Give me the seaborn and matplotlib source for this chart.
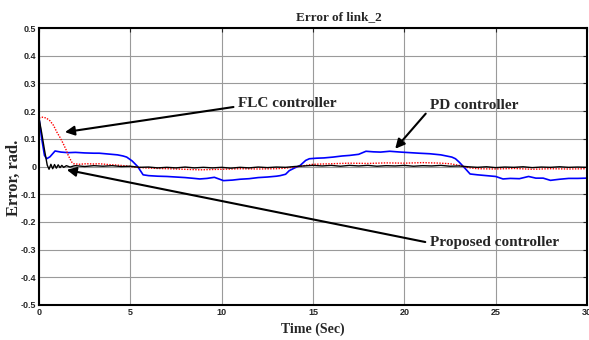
import numpy as np
import pandas as pd
import matplotlib
matplotlib.use("Agg")
import matplotlib.pyplot as plt
import seaborn as sns

# ---- data -------------------------------------------------------------
pd_time = [0, 0.15, 0.3, 0.42, 0.6, 0.88, 1.2, 1.6, 2.0, 2.5, 3.0, 3.3, 3.8, 4.3,
           4.6, 4.8, 5.1, 5.4, 5.7, 6.0, 6.5, 7.0, 7.5, 8.0, 8.5, 8.8, 9.2, 9.6,
           10.1, 10.6, 11.0, 11.5, 12.0, 12.5, 13.0, 13.2, 13.5, 13.7, 14.0, 14.3,
           14.6, 14.8, 15.2, 15.6, 16.1, 16.6, 17.0, 17.5, 17.9, 18.3, 18.7, 19.2,
           19.8, 20.3, 20.8, 21.4, 22.0, 22.6, 22.8, 23.0, 23.3, 23.6, 24.0, 24.5,
           25.0, 25.4, 25.8, 26.3, 26.8, 27.2, 27.6, 28.0, 28.5, 29.0, 29.5, 30.0]
pd_error = [0.175, 0.10, 0.04, 0.028, 0.035, 0.056, 0.052, 0.050, 0.051, 0.049,
            0.048, 0.048, 0.045, 0.042, 0.038, 0.034, 0.020, 0.0, -0.030, -0.033,
            -0.035, -0.036, -0.038, -0.040, -0.043, -0.045, -0.043, -0.039, -0.051,
            -0.049, -0.046, -0.044, -0.040, -0.038, -0.035, -0.033, -0.028, -0.015,
            -0.005, 0.004, 0.022, 0.028, 0.030, 0.031, 0.034, 0.038, 0.040, 0.044,
            0.055, 0.053, 0.052, 0.055, 0.052, 0.050, 0.048, 0.046, 0.042, 0.034,
            0.028, 0.016, -0.005, -0.027, -0.030, -0.033, -0.036, -0.045, -0.043,
            -0.044, -0.036, -0.042, -0.042, -0.050, -0.046, -0.043, -0.043, -0.042]

flc_time = [0, 0.2, 0.4, 0.6, 0.8, 0.97, 1.15, 1.33, 1.5, 1.6, 1.79, 1.9, 2.2, 2.6,
            3.0, 3.3, 3.8, 4.3, 4.8, 5.2, 5.8, 6.5, 7.5, 8.8, 10, 11, 12, 13, 13.5,
            14.0, 14.5, 15, 16, 17, 18, 19, 20, 21, 22, 22.5, 23, 23.5, 24, 25, 26,
            27, 28, 29, 30]
flc_error = [0.175, 0.178, 0.175, 0.165, 0.148, 0.125, 0.105, 0.082, 0.058, 0.04,
             0.016, 0.01, 0.008, 0.01, 0.009, 0.01, 0.007, 0.005, 0.002, -0.002,
             -0.005, -0.007, -0.009, -0.012, -0.01, -0.008, -0.009, -0.008, -0.006,
             -0.002, 0.003, 0.008, 0.01, 0.012, 0.011, 0.013, 0.012, 0.014, 0.012,
             0.01, 0.004, -0.004, -0.008, -0.009, -0.007, -0.01, -0.008, -0.009,
             -0.008]

prop_time = [0, 0.15, 0.3, 0.45, 0.55, 0.65, 0.75, 0.85, 0.95, 1.05, 1.15, 1.25,
             1.35, 1.5, 1.7, 1.9,
             2.0, 2.5, 3.0, 3.5, 4.0, 4.5, 5.0, 5.5, 6.0, 6.5, 7.0, 7.5, 8.0, 8.5,
             9.0, 9.5, 10.0, 10.5, 11.0, 11.5, 12.0, 12.5, 13.0, 13.5, 14.0, 14.5,
             15.0, 15.5, 16.0, 16.5, 17.0, 17.5, 18.0, 18.5, 19.0, 19.5, 20.0, 20.5,
             21.0, 21.5, 22.0, 22.5, 23.0, 23.5, 24.0, 24.5, 25.0, 25.5, 26.0, 26.5,
             27.0, 27.5, 28.0, 28.5, 29.0, 29.5, 30.0]
prop_error = [0.175, 0.12, 0.06, 0.005, -0.01, 0.008, -0.008, 0.007, -0.006, 0.006,
              -0.004, 0.004, -0.003, 0.003, -0.002, 0.002,
              0.003, 0.000, 0.003, 0.001, 0.003, 0.000, 0.001, -0.003, -0.002,
              -0.005, -0.003, -0.005, -0.002, -0.005, -0.003, -0.005, -0.003, -0.006,
              -0.003, -0.005, -0.002, -0.004, -0.002, -0.003, 0.000, 0.002, 0.004,
              0.002, 0.004, 0.001, 0.004, 0.002, 0.004, 0.001, 0.003, 0.002, 0.004,
              0.001, 0.003, 0.002, 0.004, 0.001, 0.002, -0.001, -0.003, -0.001,
              -0.004, -0.002, -0.003, -0.001, -0.004, -0.002, -0.003, -0.001, -0.003,
              -0.002, -0.003]

x_ticks = [0, 5, 10, 15, 20, 25, 30]
y_ticks = [-0.5, -0.4, -0.3, -0.2, -0.1, 0, 0.1, 0.2, 0.3, 0.4, 0.5]
y_tick_labels = ["-0.5", "-0.4", "-0.3", "-0.2", "-0.1", "0", "0.1", "0.2", "0.3",
                 "0.4", "0.5"]

# annotation anchors: (label, arrow tip t, arrow tip error, text t, text error)
notes = [
    ("FLC controller", 1.42, 0.124, 10.9, 0.229, 0.25),
    ("PD controller", 19.5, 0.064, 21.4, 0.220, 0.25),
    ("Proposed controller", 1.52, -0.012, 21.4, -0.276, 0.5),
]

# ---- figure -----------------------------------------------------------
sns.set_style("white")
serif = ["Liberation Serif", "DejaVu Serif"]
narrow = ["Liberation Sans Narrow", "Liberation Sans", "DejaVu Sans"]

fig = plt.figure(figsize=(5.89, 3.40), dpi=100)
ax = fig.add_axes([39 / 589, 1 - 305 / 340, (587 - 39) / 589, (305 - 28) / 340])

sns.lineplot(x=pd_time, y=pd_error, ax=ax, color="#0000ff", lw=1.2,
             estimator=None, sort=False)
sns.lineplot(x=flc_time, y=flc_error, ax=ax, color="#ff0000", lw=1.0,
             linestyle=(0, (1, 1)), estimator=None, sort=False)
sns.lineplot(x=prop_time, y=prop_error, ax=ax, color="black", lw=1.0,
             estimator=None, sort=False)

ax.set_xlim(0, 30)
ax.set_ylim(-0.5, 0.5)
ax.set_xticks(x_ticks)
ax.set_xticklabels([str(t) for t in x_ticks])
ax.set_yticks(y_ticks)
ax.set_yticklabels(y_tick_labels)

ax.grid(True, color="#9a9a9a", lw=0.8)
ax.set_axisbelow(True)
for s in ax.spines.values():
    s.set_linewidth(1.5)
    s.set_color("black")

ax.tick_params(direction="in", length=3, width=0.8, top=True, right=True,
               pad=2, labelsize=6.5)
for lab in ax.get_xticklabels() + ax.get_yticklabels():
    lab.set_family(narrow)
    lab.set_fontweight("bold")

ax.set_title("Error of link_2", x=0.547, pad=6, fontsize=9.5,
             fontweight="bold", family=serif)
ax.set_xlabel("Time (Sec)", fontsize=10, fontweight="bold", family=serif,
              labelpad=4)
ax.set_ylabel("Error, rad.", fontsize=12, fontweight="bold", family=serif,
              labelpad=4)
ax.yaxis.set_label_coords(-0.031, 0.46)

for label, tx, ty, lx, ly, rp in notes:
    ax.annotate(label, xy=(tx, ty), xytext=(lx, ly), ha="left", va="center",
                fontsize=11, fontweight="bold", family=serif,
                arrowprops=dict(arrowstyle="-|>", color="black", lw=1.5,
                                mutation_scale=14, shrinkA=1, shrinkB=0,
                                relpos=(0, rp)))

fig.savefig("out.png", dpi=100)
